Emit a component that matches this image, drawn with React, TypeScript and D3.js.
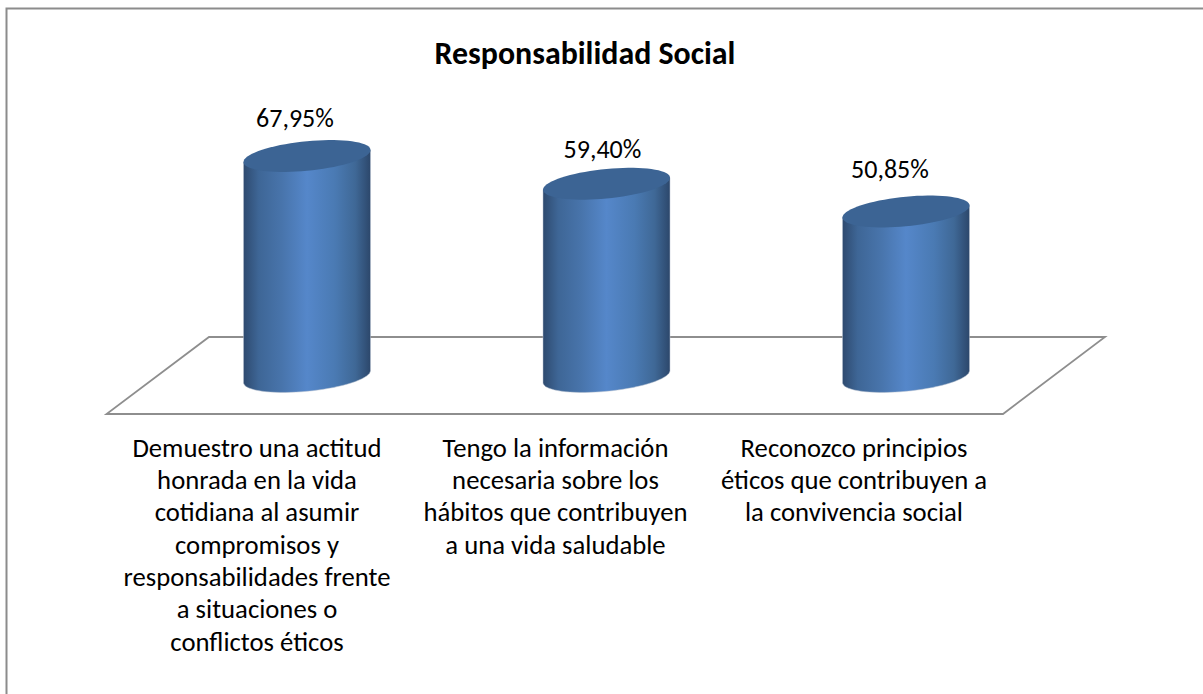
import React from "react";
import * as d3 from "d3";

const title = "Responsabilidad Social";
const categories = ["A", "B", "C"];
const values = [67.95, 59.4, 50.85];
const valueLabels = ["67,95%", "59,40%", "50,85%"];
const categoryLines = [
  ["Demuestro una actitud", "honrada en la vida", "cotidiana al asumir", "compromisos y", "responsabilidades frente", "a situaciones o", "conflictos éticos"],
  ["Tengo la información", "necesaria sobre los", "hábitos que contribuyen", "a una vida saludable"],
  ["Reconozco principios", "éticos que contribuyen a", "la convivencia social"],
];

const W = 1203, H = 694;
const FONT = "Carlito, Calibri, Lato, 'Open Sans', sans-serif";
const x = d3.scalePoint<string>().domain(categories).range([307, 906]);
const y = d3.scaleLinear().domain([0, 67.95]).range([376.5, 156]);
const RX = 63.5, SH = -6, RY = 14.8;
const labelX = [295, 602.5, 890];
const labelDy = [-29.3, -25.7, -33.5];
const catX = [257, 555.5, 854];
const floor: [number, number][] = [[106.5, 414], [1003, 414], [1105, 337], [209, 337]];
const lineGen = d3.line();

const angles = d3.range(0, 73).map((i) => (i / 72) * 2 * Math.PI);
const ell = (cx: number, cy: number) =>
  lineGen(angles.map((t) => [cx + RX * Math.cos(t), cy + SH * Math.cos(t) + RY * Math.sin(t)] as [number, number])) + "Z";
const body = (cx: number, top: number, bot: number) => {
  const lower = d3.range(0, 37).map((i) => (i / 36) * Math.PI).map((t) => [cx + RX * Math.cos(t), bot + SH * Math.cos(t) + RY * Math.sin(t)] as [number, number]);
  return lineGen([[cx + RX, top + SH], ...lower, [cx - RX, top - SH]]) + "Z";
};

export default function App() {
  return (
    <svg width={W} height={H} style={{ position: "absolute", left: 0, top: 0, background: "#fff" }} fontFamily={FONT}>
      <defs>
        <linearGradient id="cyl" x1="0" x2="1" y1="0" y2="0">
          <stop offset="0" stopColor="#2e4a6f" />
          <stop offset="0.12" stopColor="#3e6696" />
          <stop offset="0.3" stopColor="#4874ab" />
          <stop offset="0.5" stopColor="#5587ca" />
          <stop offset="0.72" stopColor="#4a7ab3" />
          <stop offset="0.88" stopColor="#3f6896" />
          <stop offset="1" stopColor="#2c476b" />
        </linearGradient>
      </defs>
      <path d={`M6.5 ${H}V8.5H${W}`} fill="none" stroke="#8c8c8c" strokeWidth={2} />
      <text x={585} y={64} textAnchor="middle" fontWeight="bold" fontSize={31.9} fill="#000">{title}</text>
      <path d={lineGen(floor) + "Z"} fill="#fff" stroke="#8e8e8e" strokeWidth={1.8} />
      {categories.map((c, i) => {
        const cx = x(c)!, top = y(values[i]), bot = y(0);
        return (
          <g key={c}>
            <path d={body(cx, top, bot)} fill="url(#cyl)" stroke="#b9c3d0" strokeWidth={0.5} />
            <path d={ell(cx, top)} fill="#3c6494" />
            <text x={labelX[i]} y={top + labelDy[i]} textAnchor="middle" fontSize={26} fill="#000">{valueLabels[i]}</text>
          </g>
        );
      })}
      {categoryLines.map((lines, i) =>
        lines.map((l, j) => (
          <text key={l} x={catX[i]} y={456.5 + j * 32.35} textAnchor="middle" fontSize={26.7} fill="#000">{l}</text>
        ))
      )}
    </svg>
  );
}
